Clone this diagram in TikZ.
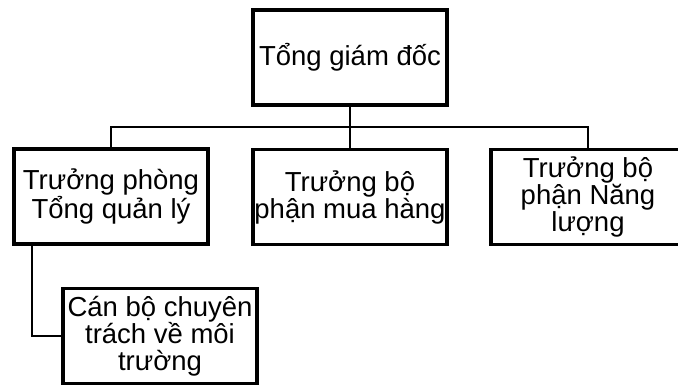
\documentclass[tikz,border=0pt]{standalone}
\usepackage{fontspec}
\setmainfont{Liberation Sans}
\usetikzlibrary{positioning}

\begin{document}
\begin{tikzpicture}[x=1pt,y=-1pt,
  box/.style={draw,line width=3.5pt,minimum width=194pt,minimum height=95pt,
    inner sep=0pt,align=center,font=\fontsize{27.5}{27}\selectfont},
  link/.style={line width=2pt}]
  \useasboundingbox (0,0) rectangle (678,388);
  % boxes
  \node[box] (ceo) at (350,57.5) {Tổng giám đốc};
  \node[box] (gen) at (111,196.5) {Trưởng phòng\\Tổng quản lý};
  \node[box] (buy) at (350,197) {Trưởng bộ\\phận mua hàng};
  \node[box] (pow) at (588,197) {Trưởng bộ\\phận Năng\\lượng};
  \node[box] (env) at (160,336) {Cán bộ chuyên\\trách về môi\\trường};
  % connectors
  \coordinate (bus) at (350,127);
  \draw[link] (ceo.south) -- (buy.north);
  \draw[link] (gen.north) |- (bus) -| (pow.north);
  \draw[link] ([xshift=20pt]gen.south west) |- (env.west);
\end{tikzpicture}
\end{document}
